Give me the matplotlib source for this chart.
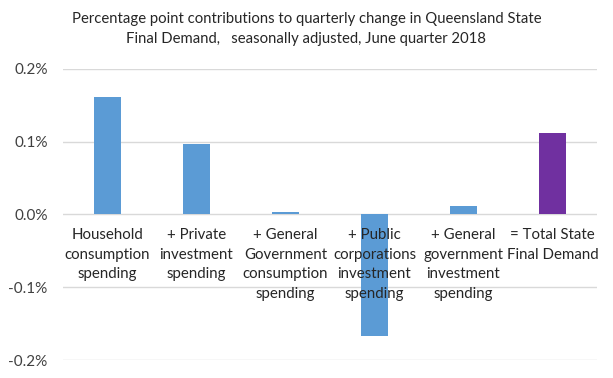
import matplotlib.pyplot as plt
import numpy as np

# Kategorien und Werte (Prozentpunkte)
categories = [
    "Household\nconsumption\nspending",
    "+ Private\ninvestment\nspending",
    "+ General\nGovernment\nconsumption\nspending",
    "+ Public\ncorporations\ninvestment\nspending",
    "+ General\ngovernment\ninvestment\nspending",
    "= Total State\nFinal Demand",
]
values = [0.162, 0.097, 0.003, -0.167, 0.011, 0.112]
bar_colors = ["#5B9BD5"] * 5 + ["#7030A0"]
yticks = [-0.2, -0.1, 0.0, 0.1, 0.2]
ytick_labels = ["-0.2%", "-0.1%", "0.0%", "0.1%", "0.2%"]

plt.rcParams['font.family'] = ['Lato', 'DejaVu Sans']

fig = plt.figure(figsize=(6.13, 3.78), dpi=100)
ax = fig.add_axes([63 / 613, 1 - 360 / 378, (597 - 63) / 613, (360 - 69) / 378])

x = np.arange(len(categories))
ax.bar(x, values, width=0.31, color=bar_colors, zorder=2)

ax.set_xlim(-0.5, len(categories) - 0.5)
ax.set_ylim(-0.2, 0.2)
ax.set_yticks(yticks)
ax.set_yticklabels(ytick_labels, fontsize=11, color="#404040")
ax.set_xticks([])
ax.tick_params(axis='y', length=0, pad=11)
ax.grid(axis='y', color="#D9D9D9", linewidth=1, zorder=0)
for s in ax.spines.values():
    s.set_visible(False)

# Kategorienbeschriftungen unterhalb der Nulllinie
for i, lab in enumerate(categories):
    ax.annotate(lab, xy=(i, 0), xytext=(0, -10), textcoords='offset points',
                ha='center', va='top', fontsize=10.8, color="#262626",
                linespacing=1.5, zorder=3)

fig.text(0.5, 0.968,
         "Percentage point contributions to quarterly change in Queensland State\n"
         "Final Demand,   seasonally adjusted, June quarter 2018",
         ha='center', va='top', fontsize=10.7, color="#262626", linespacing=1.55)

fig.savefig("out.png", dpi=100)
